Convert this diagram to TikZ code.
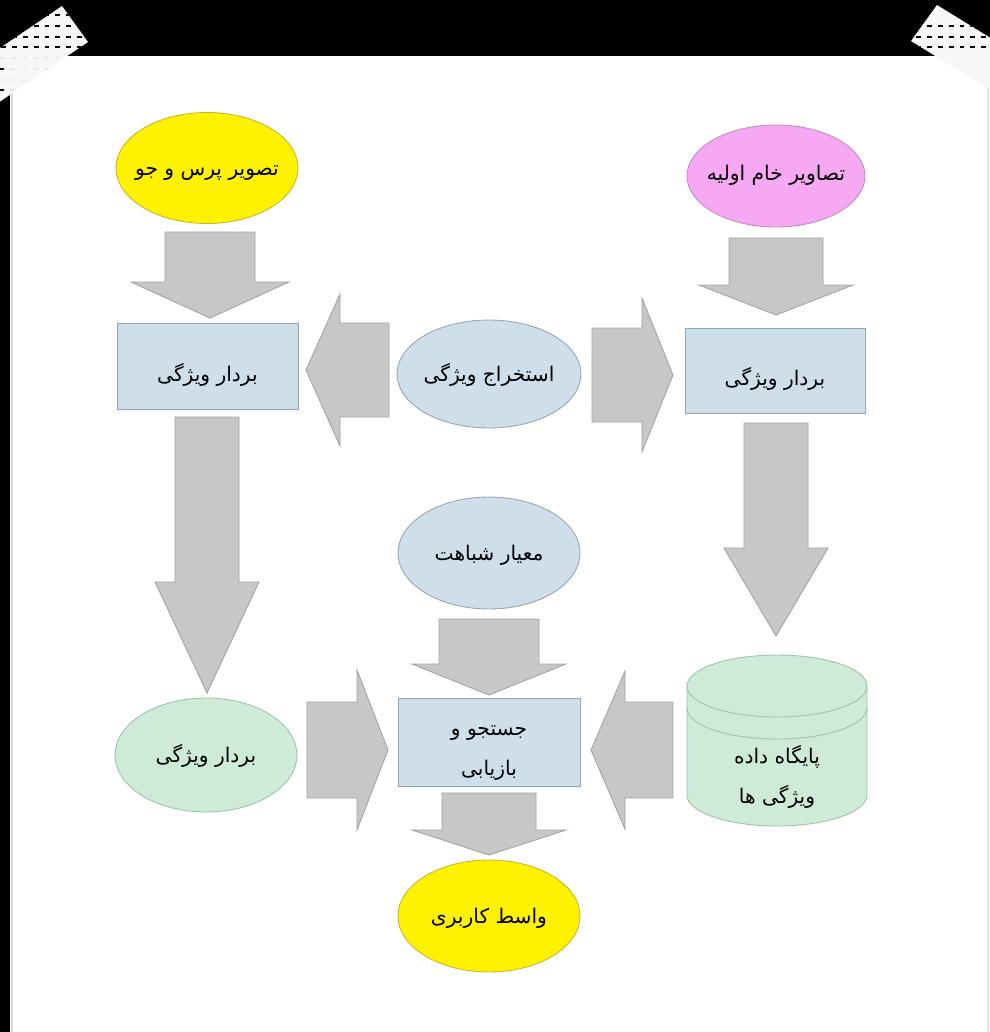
\documentclass[tikz,border=0pt]{standalone}
\usepackage{fontspec}
\newfontfamily\fa[Script=Arabic]{DejaVu Sans}
\TeXXeTstate=1
\usetikzlibrary{shapes.geometric}
\definecolor{azul}{HTML}{CFDFEA}
\definecolor{azulb}{HTML}{93A6B6}
\definecolor{amarillo}{HTML}{FFF200}
\definecolor{amarillob}{HTML}{C9B52E}
\definecolor{rosa}{HTML}{F7A8F2}
\definecolor{rosab}{HTML}{C48BC2}
\definecolor{verde}{HTML}{CDEBD6}
\definecolor{verdeb}{HTML}{9FC2A8}
\definecolor{grisf}{HTML}{C7C7C7}
\definecolor{grisb}{HTML}{A3A3A3}
% flecha vertical: x centro, y inicio, y base punta, y punta, medio cuerpo, media punta
\newcommand{\flechav}[6]{%
  \draw[gris] ({#1-#5},#2) -- ({#1+#5},#2) -- ({#1+#5},#3) -- ({#1+#6},#3) -- (#1,#4)
    -- ({#1-#6},#3) -- ({#1-#5},#3) -- cycle;}
% flecha horizontal: y centro, x inicio, x base punta, x punta, medio cuerpo, media punta
\newcommand{\flechah}[6]{%
  \draw[gris] (#2,{#1-#5}) -- (#3,{#1-#5}) -- (#3,{#1-#6}) -- (#4,#1) -- (#3,{#1+#6})
    -- (#3,{#1+#5}) -- (#2,{#1+#5}) -- cycle;}
\begin{document}
\begin{tikzpicture}[x=0.02cm, y=-0.02cm, line width=0.5pt,
  every node/.append style={font=\fa\fontsize{11.5}{22.5}\selectfont, text=black},
  ovalo/.style={ellipse, minimum width=3.64cm, minimum height=2.22cm, inner xsep=-0.3cm, inner ysep=0pt,
    text height=2.3ex, text depth=0.3ex},
  caja/.style={rectangle, fill=azul, draw=azulb, minimum width=3.62cm, minimum height=1.72cm,
    text height=4.3ex, text depth=0.3ex},
  gris/.style={fill=grisf, draw=grisb, line join=miter},
  puntos/.style={line width=1.1pt, dash pattern=on 2.8pt off 3.4pt}]
  \useasboundingbox (0,0) rectangle (990,1032);
  % marco
  \fill[white] (0,0) rectangle (990,1032);
  \fill[black] (0,0) rectangle (990,56);
  \fill[black] (0,0) rectangle (10,1032);
  \draw[black!15, line width=1.2pt] (12,56) -- (12,1032);
  \draw[black!12, line width=1.2pt] (988,56) -- (988,1032);
  % cintas
  \begin{scope}
    \clip (62,6) -- (88,42) -- (-42,130) -- (-68,94) -- cycle;
    \fill[white!97!black] (-70,0) rectangle (100,140);
    \foreach \y in {58,69,80,90} \draw[puntos, black!8] (0,\y) -- (100,\y);
    \begin{scope}
      \clip (0,56) rectangle (10,140);
      \foreach \y in {69,90} \draw[puntos] (-1,\y) -- (100,\y);
    \end{scope}
    \clip (-70,0) rectangle (100,56);
    \foreach \y in {15,26,37,47} \draw[puntos] (1,\y) -- (100,\y);
  \end{scope}
  \begin{scope}
    \clip (937,5) -- (911,41) -- (1041,121) -- (1067,85) -- cycle;
    \fill[white!97!black] (900,0) rectangle (1000,140);
    \clip (900,0) rectangle (1000,56);
    \foreach \y in {26,37,47} \draw[puntos] (916,\y) -- (1000,\y);
  \end{scope}
  % nodos
  \node[ovalo, fill=amarillo, draw=amarillob] (consulta) at (207,168) {\beginR تصویر پرس و جو\endR};
  \node[ovalo, fill=rosa, draw=rosab, minimum width=3.56cm, minimum height=2.04cm,
    text height=1.6ex] (crudas) at (776,176) {\beginR تصاویر خام اولیه\endR};
  \node[caja] (vecizq) at (207.5,366) {\beginR بردار ویژگی\endR};
  \node[caja, minimum width=3.6cm, minimum height=1.7cm] (vecder) at (775,370.5) {\beginR بردار ویژگی\endR};
  \node[ovalo, fill=azul, draw=azulb, minimum width=3.68cm, minimum height=2.16cm] (extraccion) at (489,374) {\beginR استخراج ویژگی\endR};
  \node[ovalo, fill=azul, draw=azulb, minimum height=2.24cm] (metrica) at (489,553) {\beginR معیار شباهت\endR};
  \node[caja, minimum width=3.64cm, minimum height=1.76cm] (busqueda) at (489,742) {};
  \node[align=center] (busquedatxt) at (busqueda.center) [yshift=-0.22cm]
    {\beginR جستجو و\endR\\\beginR بازیابی\endR};
  \node[ovalo, fill=verde, draw=verdeb, minimum height=2.28cm] (vecconsulta) at (206,755) {\beginR بردار ویژگی\endR};
  \node[ovalo, fill=amarillo, draw=amarillob, minimum height=2.24cm] (interfaz) at (489,916) {\beginR واسط کاربری\endR};
  % base de datos
  \fill[verde] (687,686) -- (687,795) arc (180:0:90 and 31) -- (867,686) arc (0:-180:90 and 31) -- cycle;
  \draw[verdeb] (687,686) -- (687,795) arc (180:0:90 and 31) -- (867,686);
  \draw[verdeb] (777,686) ellipse (90 and 31);
  \draw[verdeb] (687,708) arc (180:0:90 and 31);
  \node[align=center] (basedatos) at (777,777) {\beginR پایگاه داده\endR\\\beginR ویژگی ها\endR};
  % flechas
  \flechav{210}{232}{282}{318}{45}{79}
  \flechav{776}{238}{285}{315}{47}{77}
  \flechav{207}{417}{582}{693}{32}{52}
  \flechav{776}{423}{548}{636}{32}{52}
  \flechav{489}{619}{664}{695}{50}{77}
  \flechav{489}{793}{830}{855}{47}{77}
  \flechah{370}{389}{340}{306}{47}{76}
  \flechah{375}{592}{642}{673}{47}{77}
  \flechah{750}{307}{357}{388}{48}{80}
  \flechah{750}{673}{625}{591}{48}{79}
\end{tikzpicture}
\end{document}
